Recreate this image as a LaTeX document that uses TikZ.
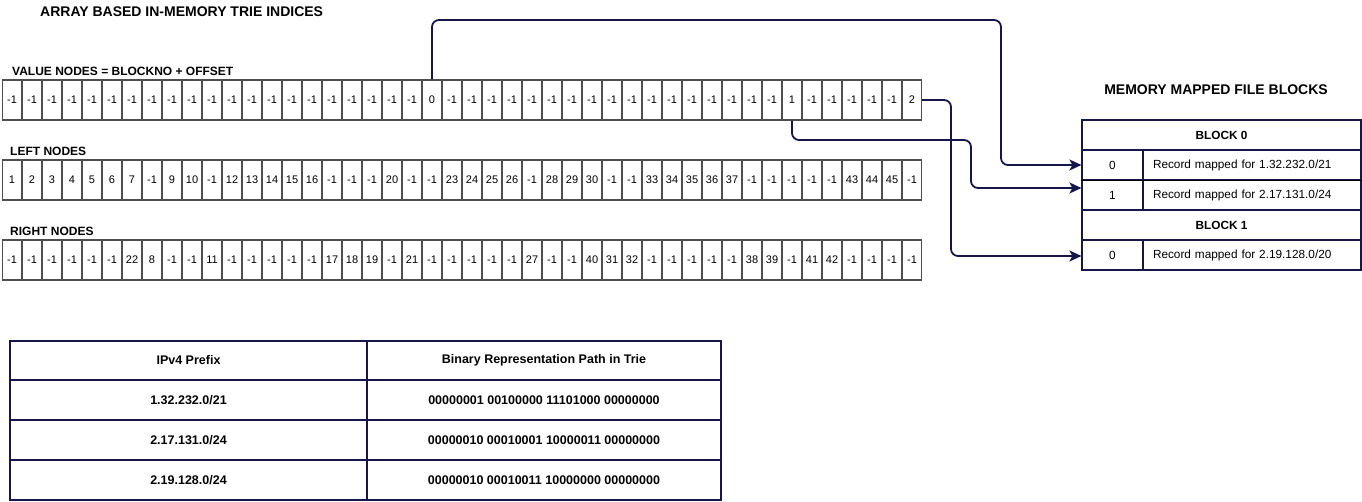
\documentclass[tikz,border=0pt]{standalone}
\usepackage{fontspec}
\setmainfont{Liberation Sans}
\usetikzlibrary{arrows.meta,calc}
\definecolor{navy}{RGB}{22,22,74}
\definecolor{cellgray}{RGB}{78,78,78}
\begin{document}
\begin{tikzpicture}[x=1pt,y=-1pt,
  cell/.style={draw=cellgray,line width=1.2pt,fill=white,minimum width=18.6pt,minimum height=40pt,inner sep=0pt,font=\fontsize{11}{13}\selectfont},
  lbl/.style={anchor=west,inner sep=0pt,font=\fontsize{12}{14}\selectfont\bfseries},
  ttl/.style={inner sep=0pt,font=\fontsize{14}{16}\selectfont\bfseries},
  mt/.style={draw=navy,line width=1.2pt,minimum height=30pt,inner sep=0pt,font=\fontsize{11.8}{13}\selectfont},
  mtb/.style={mt,font=\fontsize{11.8}{13}\selectfont\bfseries},
  mtr/.style={mt,minimum width=218pt,text width=198pt,inner xsep=10pt,align=left},
  bt/.style={draw=navy,line width=1.3pt,minimum height=40pt,inner sep=0pt,font=\fontsize{12.5}{14}\selectfont\bfseries},
  conn/.style={draw=navy,line width=1.8pt,rounded corners=7pt,-{Stealth[length=12pt,width=11pt,inset=3pt]}}
]
\useasboundingbox (0,0) rectangle (1362,502);

% titles
\node[ttl,anchor=west] (title) at (40,12) {ARRAY BASED IN-MEMORY TRIE INDICES};
\node[lbl] (vlabel) at (12,71) {VALUE NODES = BLOCKNO + OFFSET};
\node[lbl] (llabel) at (10,151) {LEFT NODES};
\node[lbl] (rlabel) at (10,231) {RIGHT NODES};
\node[ttl] (mtitle) at (1216,90) {MEMORY MAPPED FILE BLOCKS};

% value nodes
\foreach \v [count=\i from 0] in {-1,-1,-1,-1,-1,-1,-1,-1,-1,-1,-1,-1,-1,-1,-1,-1,-1,-1,-1,-1,-1,0,-1,-1,-1,-1,-1,-1,-1,-1,-1,-1,-1,-1,-1,-1,-1,-1,-1,1,-1,-1,-1,-1,-1,2}
  \node[cell] (v\i) at ({12+20*\i},100) {\v};
% left nodes
\foreach \v [count=\i from 0] in {1,2,3,4,5,6,7,-1,9,10,-1,12,13,14,15,16,-1,-1,-1,20,-1,-1,23,24,25,26,-1,28,29,30,-1,-1,33,34,35,36,37,-1,-1,-1,-1,-1,43,44,45,-1}
  \node[cell] (l\i) at ({12+20*\i},180) {\v};
% right nodes
\foreach \v [count=\i from 0] in {-1,-1,-1,-1,-1,-1,22,8,-1,-1,11,-1,-1,-1,-1,-1,17,18,19,-1,21,-1,-1,-1,-1,-1,27,-1,-1,40,31,32,-1,-1,-1,-1,-1,38,39,-1,41,42,-1,-1,-1,-1}
  \node[cell] (r\i) at ({12+20*\i},260) {\v};

% memory mapped file blocks
\node[mtb,minimum width=279pt] (b0h) at (1221.5,135) {BLOCK 0};
\node[mt,minimum width=61pt] (b0k0) at (1112.5,165) {0};
\node[mtr] (b0r0) at (1252,165) {Record mapped for 1.32.232.0/21};
\node[mt,minimum width=61pt] (b0k1) at (1112.5,195) {1};
\node[mtr] (b0r1) at (1252,195) {Record mapped for 2.17.131.0/24};
\node[mtb,minimum width=279pt] (b1h) at (1221.5,225) {BLOCK 1};
\node[mt,minimum width=61pt] (b1k0) at (1112.5,255) {0};
\node[mtr] (b1r0) at (1252,255) {Record mapped for 2.19.128.0/20};
\draw[black,line width=0.8pt] (b0k0.south west) -- (b0r0.south east);

% bottom table
\node[bt,minimum width=357pt,minimum height=39pt] (th1) at (188.5,360.5) {IPv4 Prefix};
\node[bt,minimum width=354pt,minimum height=39pt] (th2) at (544,360.5) {Binary Representation Path in Trie};
\node[bt,minimum width=357pt] (ta1) at (188.5,400) {1.32.232.0/21};
\node[bt,minimum width=354pt] (ta2) at (544,400) {00000001 00100000 11101000 00000000};
\node[bt,minimum width=357pt] (tb1) at (188.5,440) {2.17.131.0/24};
\node[bt,minimum width=354pt] (tb2) at (544,440) {00000010 00010001 10000011 00000000};
\node[bt,minimum width=357pt] (tc1) at (188.5,480) {2.19.128.0/24};
\node[bt,minimum width=354pt] (tc2) at (544,480) {00000010 00010011 10000000 00000000};

% connectors
\coordinate (c1) at (1001,20);
\coordinate (c2) at (971,140);
\coordinate (c3) at (951,256);
\coordinate (a2) at ($(b0k1.west)+(0,-7)$);
\coordinate (a3) at ($(b1k0.west)+(0,1)$);
\draw[conn] (v21.north) |- (c1) |- (b0k0.west);
\draw[conn] (v39.south) |- (c2) |- (a2);
\draw[conn] (v45.east) -| (c3) -- (a3);
\end{tikzpicture}
\end{document}
